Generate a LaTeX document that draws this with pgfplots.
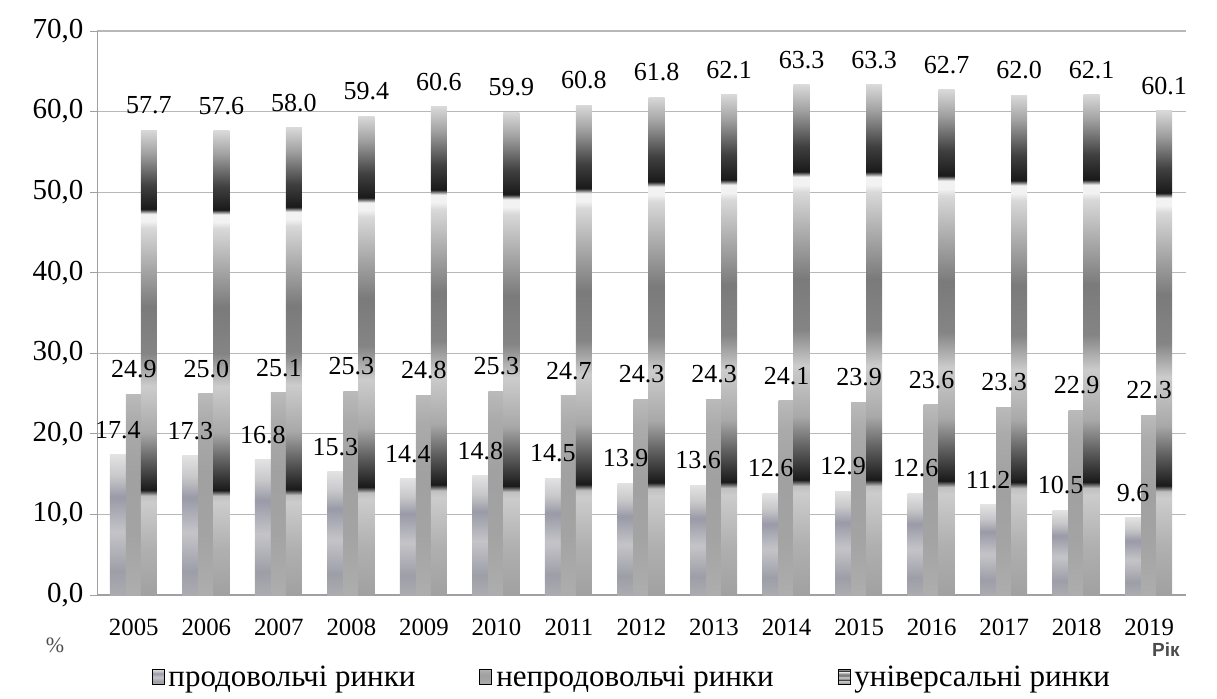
\documentclass[border=0pt]{standalone}
\usepackage{pgfplots}
\pgfplotsset{compat=1.18}
\usepackage{fontspec}
\setmainfont{Liberation Serif}
\newfontfamily\sansf{Liberation Sans}
\definecolor{gridc}{HTML}{B8B8B8}
\definecolor{axc}{HTML}{A0A0A0}
\definecolor{lavA}{HTML}{ABABB0}
\definecolor{lavB}{HTML}{9E9EA8}
\definecolor{lavC}{HTML}{C4C4C8}
\definecolor{lavD}{HTML}{9A9AA8}
\definecolor{lavE}{HTML}{C8C8CA}
\definecolor{lavF}{HTML}{E2E2E3}
% series 1: grey with lavender tinge (f -> 25+50f bp)
\pgfdeclareverticalshading{sone}{100bp}{%
 color(0bp)=(lavA); color(25bp)=(lavA);
 color(33.5bp)=(lavB);
 color(47.5bp)=(lavC);
 color(60bp)=(lavD);
 color(67.5bp)=(lavE);
 color(75bp)=(lavF); color(100bp)=(lavF)}
% series 2: medium grey
\pgfdeclareverticalshading{stwo}{100bp}{%
 color(0bp)=(black!32); color(25bp)=(black!32);
 color(40bp)=(black!36);
 color(55bp)=(black!37);
 color(68bp)=(black!33);
 color(75bp)=(black!27); color(100bp)=(black!27)}
% series 3: banded dark gradient
\pgfdeclareverticalshading{sthree}{100bp}{%
 color(0bp)=(black!37); color(25bp)=(black!37);
 color(30bp)=(black!31);
 color(35bp)=(black!20);
 color(35.7bp)=(black!25);
 color(36.3bp)=(black!90);
 color(39.5bp)=(black!62);
 color(42.5bp)=(black!34);
 color(47.5bp)=(black!20);
 color(51bp)=(black!48);
 color(56bp)=(black!52);
 color(60bp)=(black!35);
 color(64.5bp)=(black!15);
 color(65.2bp)=(black!5);
 color(66bp)=(black!5);
 color(66.5bp)=(black!90);
 color(69bp)=(black!75);
 color(72.5bp)=(black!37);
 color(75bp)=(black!15); color(100bp)=(black!15)}

\pgfplotstableread{
x s1 s2 s3
0 17.4 24.9 57.7
1 17.3 25.0 57.6
2 16.8 25.1 58.0
3 15.3 25.3 59.4
4 14.4 24.8 60.6
5 14.8 25.3 59.9
6 14.5 24.7 60.8
7 13.9 24.3 61.8
8 13.6 24.3 62.1
9 12.6 24.1 63.3
10 12.9 23.9 63.3
11 12.6 23.6 62.7
12 11.2 23.3 62.0
13 10.5 22.9 62.1
14 9.6 22.3 60.1
}\datatable

\begin{document}
\begin{tikzpicture}
\begin{axis}[
  at={(0,0)}, anchor=south west,
  scale only axis, width=544pt, height=282pt,
  ybar, bar width=8pt,
  xmin=-0.5, xmax=14.5, ymin=0, ymax=70,
  ytick={0,10,...,70},
  xtick={0,...,14},
  xticklabels={2005,2006,2007,2008,2009,2010,2011,2012,2013,2014,2015,2016,2017,2018,2019},
  extra x ticks={-0.5,0.5,...,14.5},
  extra x tick labels={},
  extra x tick style={major tick length=3pt, tick style={axc, line width=0.5pt}},
  axis x line*=bottom, axis y line*=left,
  axis line style={axc, line width=0.6pt},
  tick align=outside,
  x tick style={draw=none},
  y tick style={axc, line width=0.5pt},
  major tick length=3.5pt,
  ymajorgrids,
  major grid style={gridc, line width=0.6pt},
  /pgf/number format/assume math mode=true,
  yticklabel style={font=\fontsize{14.5}{16}\selectfont, /pgf/number format/.cd, fixed, fixed zerofill, precision=1, use comma},
  xticklabel style={font=\fontsize{12.4}{14}\selectfont, yshift=-5pt},
  every node near coord/.append style={font=\fontsize{13}{15}\selectfont, anchor=center, yshift=12.5pt},
  legend columns=3,
  legend style={draw=none, fill=none, font=\fontsize{15.5}{18}\selectfont,
    at={(axis description cs:0.492,0)}, anchor=center, yshift=-41.5pt,
    /tikz/every even column/.append style={column sep=30pt}},
  clip=false,
]
\addlegendimage{legend image code/.code={\path[shading=sone] (0pt,-3pt) rectangle (6pt,4.5pt);}}
\addlegendentry{продовольчі ринки}
\addlegendimage{legend image code/.code={\path[shading=stwo] (0pt,-3pt) rectangle (6pt,4.5pt);}}
\addlegendentry{непродовольчі ринки}
\addlegendimage{legend image code/.code={\path[shading=sthree] (0pt,-3pt) rectangle (6pt,4.5pt);}}
\addlegendentry{універсальні ринки}
\pgfplotsinvokeforeach{0,...,14}{
  \addplot[ybar, bar shift=-8pt, draw=none, shading=sone, forget plot,
    restrict x to domain=#1:#1]
    table[x=x, y=s1] {\datatable};
  \addplot[ybar, bar shift=0pt, draw=none, shading=stwo, forget plot,
    restrict x to domain=#1:#1]
    table[x=x, y=s2] {\datatable};
  \addplot[ybar, bar shift=7.5pt, draw=none, shading=sthree, forget plot,
    restrict x to domain=#1:#1]
    table[x=x, y=s3] {\datatable};
}
% labels on top
\addplot[ybar, bar shift=-8pt, draw=none, fill=none, forget plot,
  nodes near coords={\pgfmathprintnumber[fixed,fixed zerofill,precision=1]{\pgfplotspointmeta}}]
  table[x=x, y=s1] {\datatable};
\addplot[ybar, bar shift=0pt, draw=none, fill=none, forget plot,
  nodes near coords={\pgfmathprintnumber[fixed,fixed zerofill,precision=1]{\pgfplotspointmeta}}]
  table[x=x, y=s2] {\datatable};
\addplot[ybar, bar shift=7.5pt, draw=none, fill=none, forget plot,
  nodes near coords={\pgfmathprintnumber[fixed,fixed zerofill,precision=1]{\pgfplotspointmeta}}]
  table[x=x, y=s3] {\datatable};
\node[font=\fontsize{11}{13}\selectfont, text=black!70] at (axis description cs:-0.039,0) [yshift=-25pt] {\%};
\node[font=\sansf\bfseries\fontsize{9.5}{11}\selectfont, text=black!70] at (axis description cs:0.982,0) [yshift=-27.5pt] {Рік};
\end{axis}
\pgfresetboundingbox
\path[use as bounding box] (-48.75pt,-51.5pt) rectangle (559.75pt,297.5pt);
\end{tikzpicture}
\end{document}
